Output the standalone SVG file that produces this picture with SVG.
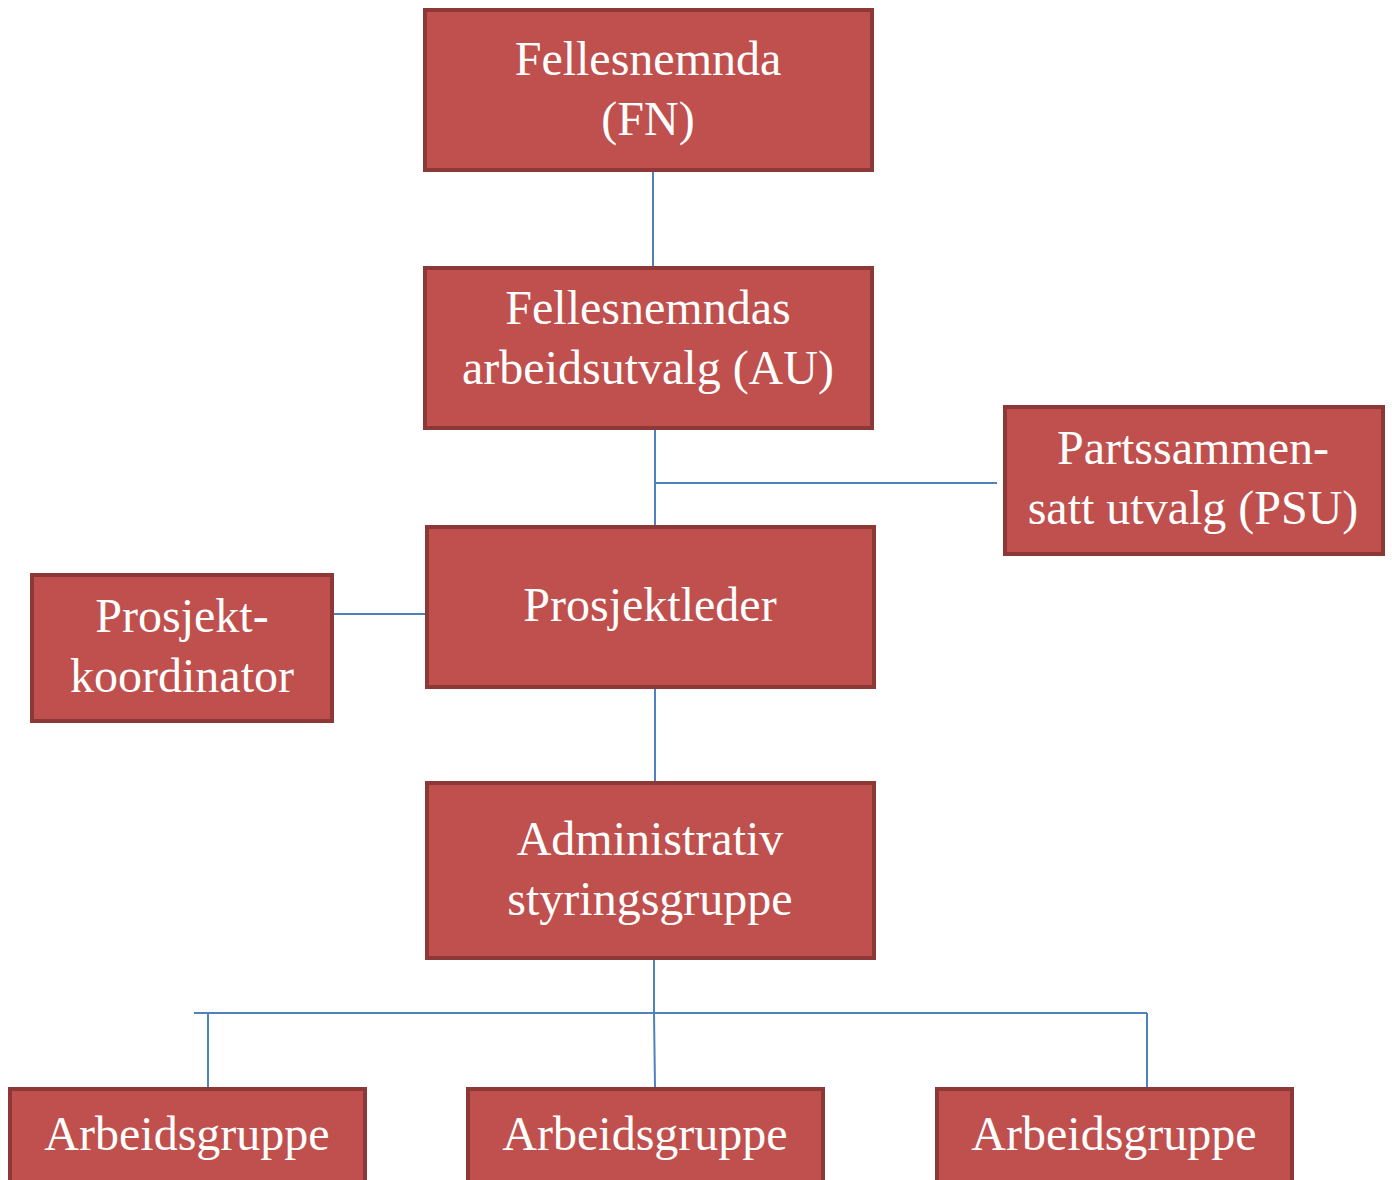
<svg xmlns="http://www.w3.org/2000/svg" width="1392" height="1180" viewBox="0 0 1392 1180">
<style>
.box{fill:#C0504D;stroke:#8C3836;stroke-width:4}
.t{font-family:"Liberation Serif","Times New Roman",serif;font-size:48px;fill:#FFFFFF;text-anchor:middle}
.c{fill:none;stroke:#4F81BD;stroke-width:2}
</style>
<rect width="1392" height="1180" fill="#FFFFFF"/>
<g id="connectors">
<line class="c" x1="653" y1="171" x2="653" y2="267"/>
<line class="c" x1="655" y1="430" x2="655" y2="526"/>
<line class="c" x1="654" y1="483" x2="997" y2="483"/>
<line class="c" x1="334" y1="614" x2="425" y2="614"/>
<line class="c" x1="655" y1="689" x2="655" y2="782"/>
<polyline class="c" points="654,959 654,1013 655,1087"/>
<line class="c" x1="194" y1="1013" x2="1147" y2="1013"/>
<line class="c" x1="208" y1="1013" x2="208" y2="1087"/>
<line class="c" x1="1147" y1="1013" x2="1147" y2="1087"/>
</g>
<g id="fn">
<rect class="box" x="425" y="10" width="447" height="160"/>
<text class="t" x="648" y="75">Fellesnemnda</text>
<text class="t" x="648" y="135">(FN)</text>
</g>
<g id="au">
<rect class="box" x="425" y="268" width="447" height="160"/>
<text class="t" x="648" y="324">Fellesnemndas</text>
<text class="t" x="648" y="384">arbeidsutvalg (AU)</text>
</g>
<g id="psu">
<rect class="box" x="1005" y="407" width="378" height="147"/>
<text class="t" x="1193" y="464">Partssammen-</text>
<text class="t" x="1193" y="524">satt utvalg (PSU)</text>
</g>
<g id="prosjektkoordinator">
<rect class="box" x="32" y="575" width="300" height="146"/>
<text class="t" x="182" y="632">Prosjekt-</text>
<text class="t" x="182" y="692">koordinator</text>
</g>
<g id="prosjektleder">
<rect class="box" x="427" y="527" width="447" height="160"/>
<text class="t" x="650" y="621">Prosjektleder</text>
</g>
<g id="admin">
<rect class="box" x="427" y="783" width="447" height="175"/>
<text class="t" x="650" y="855">Administrativ</text>
<text class="t" x="650" y="915">styringsgruppe</text>
</g>
<g id="ag1">
<rect class="box" x="10" y="1089" width="355" height="100"/>
<text class="t" x="187" y="1150">Arbeidsgruppe</text>
</g>
<g id="ag2">
<rect class="box" x="468" y="1089" width="355" height="100"/>
<text class="t" x="645" y="1150">Arbeidsgruppe</text>
</g>
<g id="ag3">
<rect class="box" x="937" y="1089" width="355" height="100"/>
<text class="t" x="1114" y="1150">Arbeidsgruppe</text>
</g>
</svg>
